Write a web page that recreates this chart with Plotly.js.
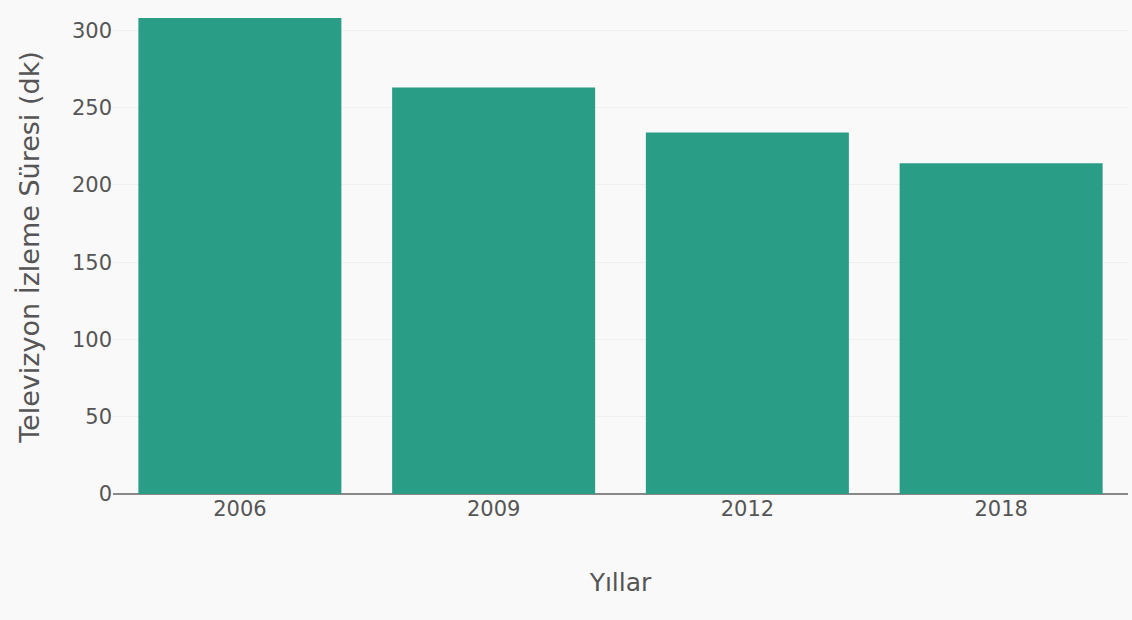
<!DOCTYPE html>
<html>
<head>
<meta charset="utf-8">
<script src="https://cdn.plot.ly/plotly-3.0.1.min.js"></script>
<style>
  html, body { margin: 0; padding: 0; background: #f9f9f9; }
  #chart { width: 1132px; height: 620px; }
</style>
</head>
<body>
<div id="chart"></div>
<script>
// Average daily TV viewing time per survey year
const years = ['2006', '2009', '2012', '2018'];
const minutes = [308, 263, 234, 214];
const yTicks = [0, 50, 100, 150, 200, 250, 300];

const trace = {
  type: 'bar',
  x: years,
  y: minutes,
  marker: { color: '#2a9d87' },
  hoverinfo: 'x+y'
};

const layout = {
  width: 1132,
  height: 620,
  margin: { l: 113, r: 4, t: 0, b: 126 },
  paper_bgcolor: '#f9f9f9',
  plot_bgcolor: '#f9f9f9',
  font: { family: 'DejaVu Sans, Verdana, sans-serif', color: '#555', size: 21 },
  bargap: 0.2,
  showlegend: false,
  xaxis: {
    type: 'category',
    title: { text: 'Yıllar', font: { size: 25 }, standoff: 53 },
    showgrid: false,
    showline: false,
    ticks: '',
    automargin: false
  },
  yaxis: {
    range: [0, 319.7],
    tickvals: yTicks,
    title: { text: 'Televizyon İzleme Süresi (dk)', font: { size: 27 }, standoff: 24 },
    gridcolor: '#efefef',
    gridwidth: 1,
    zeroline: true,
    zerolinecolor: '#888',
    zerolinewidth: 2,
    ticks: '',
    automargin: false
  }
};

Plotly.newPlot('chart', [trace], layout, { displayModeBar: false, staticPlot: true });
</script>
</body>
</html>
